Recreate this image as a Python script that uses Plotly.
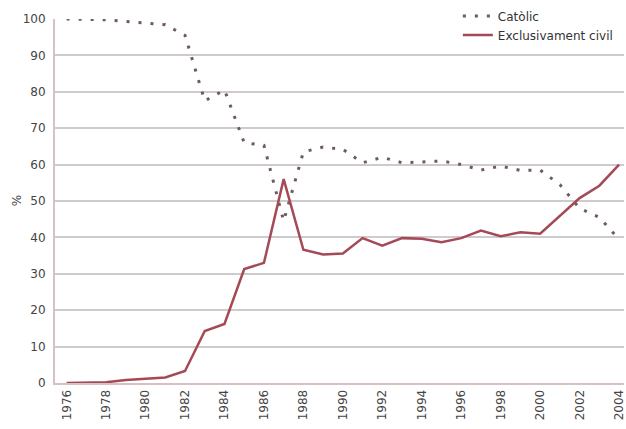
import plotly.graph_objects as go

# Matrimonis segons tipus de cerimònia (%)
years = list(range(1976, 2005))
catolic = [100, 100, 99.8, 99.3, 98.9, 98.4, 95.5, 77.5, 80.5, 66, 65.3, 44.5, 63.5,
           64.8, 64.2, 60.5, 62, 60.5, 60.7, 61, 60, 58.5, 59.6, 58.4, 58.5, 54.5,
           48, 45.5, 39.5]
civil = [0, 0, 0.2, 0.8, 1.1, 1.5, 3.3, 14.3, 16.2, 31.3, 33, 56, 36.6, 35.3, 35.6,
         39.8, 37.7, 39.8, 39.6, 38.7, 39.8, 41.9, 40.3, 41.4, 41, 45.8, 50.8, 54.2, 60]
x_ticks = list(range(1976, 2005, 2))
y_ticks = list(range(0, 101, 10))

FONT = "DejaVu Sans"
TEXT = "#444444"

fig = go.Figure()

fig.add_trace(go.Scatter(
    x=years, y=catolic, name="Catòlic", mode="lines",
    line=dict(color="#6f5a60", width=3, dash="3px,9px"),
    cliponaxis=False,
))
fig.add_trace(go.Scatter(
    x=years, y=civil, name="Exclusivament civil", mode="lines",
    line=dict(color="#a44a57", width=2.5),
    cliponaxis=False,
))

fig.update_layout(
    width=626, height=429,
    margin=dict(l=55, r=0, t=19, b=46),
    paper_bgcolor="white", plot_bgcolor="white",
    font=dict(family=FONT, size=12, color=TEXT),
    showlegend=True,
    legend=dict(
        x=0.708, y=1.048, xanchor="left", yanchor="top",
        bgcolor="rgba(0,0,0,0)", font=dict(size=12, color="#333333"),
        tracegroupgap=0, itemwidth=30,
    ),
    xaxis=dict(
        range=[1975.41, 2004.25],
        tickvals=x_ticks, ticktext=[str(v) for v in x_ticks],
        tickangle=-90, showgrid=False, zeroline=False,
        showline=True, linecolor="#d6c2c5", linewidth=2,
        ticks="", ticklabeloverflow="allow",
        tickfont=dict(size=12, color=TEXT),
    ),
    yaxis=dict(
        range=[0, 100],
        tickvals=y_ticks, showgrid=True, gridcolor="#cfcbcc", gridwidth=1.5,
        zeroline=False, showline=True, linecolor="#d6c2c5", linewidth=2,
        ticks="", ticklabelstandoff=5, tickfont=dict(size=12, color=TEXT),
    ),
    annotations=[dict(
        text="%", xref="paper", yref="paper", x=-0.0665, y=0.5,
        xanchor="center", yanchor="middle", textangle=-90, showarrow=False,
        font=dict(size=12, color=TEXT),
    )],
)

# the page puts an 8px body margin round the plot; drop it so the chart fills the window
fig.write_html("out.html", config={"displayModeBar": False},
               post_script="document.body.style.margin='0';")
